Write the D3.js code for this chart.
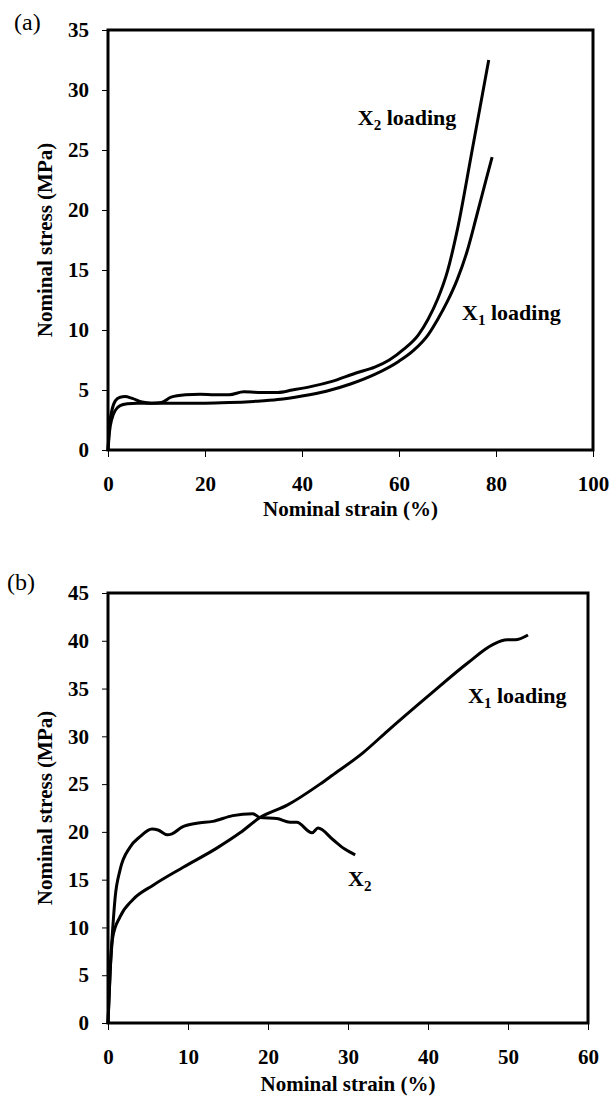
<!DOCTYPE html>
<html>
<head>
<meta charset="utf-8">
<script src="https://cdn.jsdelivr.net/npm/d3@7"></script>
<style>
  body { margin: 0; background: #fff; }
  svg text { font-family: "Liberation Serif", "Times New Roman", serif; fill: #000; }
  .tick text { font: bold 21px "Liberation Serif", serif; }
</style>
</head>
<body>
<svg id="fig" width="612" height="1098"></svg>
<script>
// (a) strain %, stress MPa
var a_x2 = [[0,0],[0.3,2.0],[0.8,3.3],[1.5,4.1],[2.5,4.4],[3.5,4.45],[5,4.3],[7,4.0],[9,3.9],[11,3.95],[13,4.4],[16,4.6],[19,4.65],[22,4.6],[25,4.6],[28,4.85],[31,4.8],[35,4.8],[38,5.0],[42,5.3],[46,5.7],[51,6.4],[55,6.9],[58,7.5],[61,8.4],[64,9.6],[66,10.9],[68,12.6],[70,14.9],[72,18.3],[75,24.8],[78.5,32.5]];
var a_x1 = [[0,0],[0.3,1.5],[0.8,2.6],[1.5,3.3],[2.5,3.7],[4,3.85],[6,3.9],[10,3.9],[15,3.9],[20,3.9],[25,3.95],[30,4.05],[35,4.2],[40,4.5],[45,4.9],[50,5.5],[55,6.3],[60,7.4],[63,8.3],[66,9.6],[68,10.9],[70,12.4],[72,14.2],[74,16.5],[76,19.5],[78,22.6],[79.2,24.4]];
// (b)
var b_x2 = [[0,0],[0.3,6],[0.6,10],[0.9,13.2],[1.5,16],[2.75,18.4],[4,19.5],[5.5,20.3],[6.25,20.2],[7.4,19.7],[8,19.8],[9.25,20.5],[11.1,20.9],[13.1,21.1],[15.6,21.7],[18.1,21.9],[19,21.5],[21.1,21.4],[22.75,21.0],[23.6,21.0],[25.5,19.9],[26.25,20.4],[28.1,19.2],[29.6,18.2],[30.9,17.6]];
var b_x1 = [[0,0],[0.25,5],[0.6,9],[1.5,11.1],[3.1,12.9],[5.6,14.4],[9.4,16.3],[13.6,18.3],[16.5,19.9],[19,21.5],[22.4,22.8],[26.5,25.0],[28,25.9],[31.9,28.3],[35,30.6],[40,34.2],[45,37.7],[48.1,39.6],[49.9,40.1],[50.9,40.1],[52.5,40.6]];

var a_xTicks = [0,20,40,60,80,100];
var a_yTicks = [0,5,10,15,20,25,30,35];
var b_xTicks = [0,10,20,30,40,50,60];
var b_yTicks = [0,5,10,15,20,25,30,35,40,45];

var svg = d3.select('#fig');

function panel(opt){
  var g = svg.append('g').attr('transform','translate('+opt.left+','+opt.top+')');
  var x = d3.scaleLinear().domain([0,opt.xmax]).range([0,opt.w]);
  var y = d3.scaleLinear().domain([0,opt.ymax]).range([opt.h,0]);

  var xa = g.append('g').attr('transform','translate(0,'+opt.h+')')
    .call(d3.axisBottom(x).tickValues(opt.xTicks).tickSize(7).tickSizeOuter(0).tickPadding(19));
  var ya = g.append('g')
    .call(d3.axisLeft(y).tickValues(opt.yTicks).tickSize(6).tickSizeOuter(0).tickPadding(13));
  [xa,ya].forEach(function(a){
    a.attr('font-family',null).attr('font-size',null);
    a.select('.domain').remove();
    a.selectAll('.tick line').attr('stroke','#000').attr('stroke-width',1);
  });

  g.append('rect').attr('x',0).attr('y',0).attr('width',opt.w).attr('height',opt.h)
    .attr('fill','none').attr('stroke','#000').attr('stroke-width',3);

  var line = d3.line().x(function(d){return x(d[0]);}).y(function(d){return y(d[1]);})
    .curve(d3.curveMonotoneX);
  opt.series.forEach(function(s){
    g.append('path').datum(s).attr('d',line).attr('fill','none')
      .attr('stroke','#000').attr('stroke-width',3).attr('stroke-linejoin','round');
  });

  g.append('text').attr('x',opt.w/2).attr('y',opt.h+opt.xTitleDy).attr('text-anchor','middle')
    .style('font-size','21px').style('font-weight','bold').text('Nominal strain (%)');
  g.append('text').attr('transform','translate('+(52-opt.left)+','+(opt.h/2)+') rotate(-90)')
    .attr('text-anchor','middle').style('font-size','21px').style('font-weight','bold')
    .text('Nominal stress (MPa)');
  g.append('text').attr('x',opt.tagX-opt.left).attr('y',opt.tagY-opt.top)
    .style('font-size','24px').text(opt.tag);

  opt.labels.forEach(function(l){
    var t = g.append('text').attr('x',x(l.x)).attr('y',y(l.y))
      .style('font-size','22px').style('font-weight','bold');
    t.append('tspan').text('X');
    t.append('tspan').attr('dy',5).style('font-size','15px').text(l.sub);
    t.append('tspan').attr('dy',-5).text(l.rest);
  });
}

panel({left:108, top:30, w:485, h:420, xmax:100, ymax:35, xTicks:a_xTicks, yTicks:a_yTicks,
  series:[a_x2,a_x1], xTitleDy:66, tag:'(a)', tagX:14, tagY:30,
  labels:[{x:51.5, y:27.1, sub:'2', rest:' loading'},{x:73, y:10.8, sub:'1', rest:' loading'}]});

panel({left:108, top:593, w:480, h:430, xmax:60, ymax:45, xTicks:b_xTicks, yTicks:b_yTicks,
  series:[b_x2,b_x1], xTitleDy:68, tag:'(b)', tagX:7, tagY:590,
  labels:[{x:45, y:33.5, sub:'1', rest:' loading'},{x:30, y:14.3, sub:'2', rest:''}]});
</script>
</body>
</html>
